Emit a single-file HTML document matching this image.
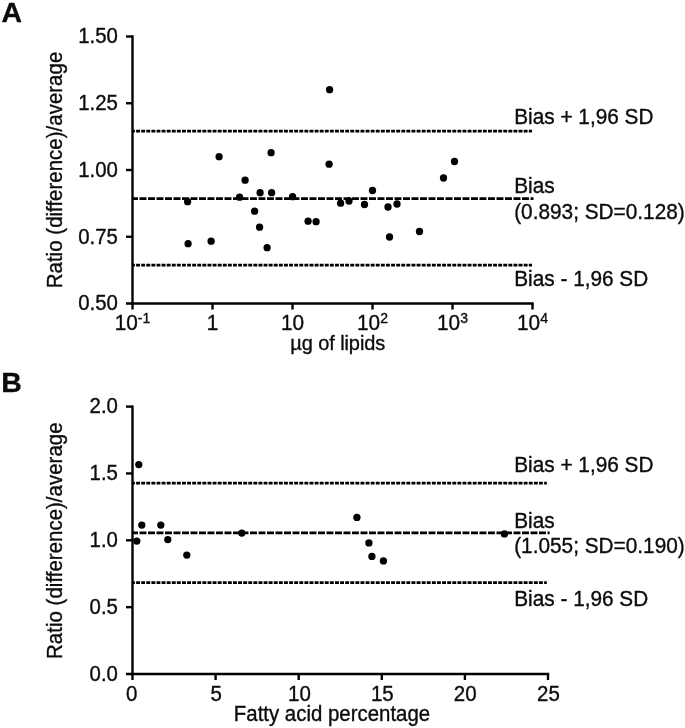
<!DOCTYPE html>
<html lang="en"><head><meta charset="utf-8"><title>Bland-Altman plots</title>
<style>html,body{margin:0;padding:0;background:#fff}body{width:685px;height:728px;overflow:hidden}svg{display:block}</style>
</head><body>
<svg width="685" height="728" viewBox="0 0 685 728">
<rect width="685" height="728" fill="#fff"/>
<g font-family="Liberation Sans, Arial, Helvetica, sans-serif" font-size="20.8" fill="#0c0c0c" stroke="#0c0c0c" stroke-width="0.35" stroke-linejoin="round">
<text transform="translate(1.4 21.9) scale(1 1.0)" font-size="28.4" font-weight="bold">A</text>
<text transform="translate(1.2 391.8) scale(1 1.0)" font-size="28.4" font-weight="bold">B</text>
<g stroke="#000" stroke-width="2.4" fill="none" stroke-linecap="butt">
<path d="M132.5 35.3 V304.7"/>
<path d="M126.0 303.5 H533.7"/>
<path d="M126.0 236.75 H132.5"/>
<path d="M126.0 170.0 H132.5"/>
<path d="M126.0 103.25 H132.5"/>
<path d="M126.0 36.5 H132.5"/>
<path d="M132.5 303.5 V309.5"/>
<path d="M212.5 303.5 V309.5"/>
<path d="M292.5 303.5 V309.5"/>
<path d="M372.5 303.5 V309.5"/>
<path d="M452.5 303.5 V309.5"/>
<path d="M532.5 303.5 V309.5"/>
</g>
<text transform="translate(117.9 310.3) scale(1 1.045)" text-anchor="end" font-size="20.4">0.50</text>
<text transform="translate(117.9 243.6) scale(1 1.045)" text-anchor="end" font-size="20.4">0.75</text>
<text transform="translate(117.9 176.8) scale(1 1.045)" text-anchor="end" font-size="20.4">1.00</text>
<text transform="translate(117.9 110.0) scale(1 1.045)" text-anchor="end" font-size="20.4">1.25</text>
<text transform="translate(117.9 43.3) scale(1 1.045)" text-anchor="end" font-size="20.4">1.50</text>
<text transform="translate(132.5 330.2) scale(1 1.045)" text-anchor="middle">10<tspan dy="-6.8" font-size="14">-1</tspan></text>
<text transform="translate(212.5 330.2) scale(1 1.045)" text-anchor="middle">1</text>
<text transform="translate(292.5 330.2) scale(1 1.045)" text-anchor="middle">10</text>
<text transform="translate(372.5 330.2) scale(1 1.045)" text-anchor="middle">10<tspan dy="-6.8" font-size="14">2</tspan></text>
<text transform="translate(452.5 330.2) scale(1 1.045)" text-anchor="middle">10<tspan dy="-6.8" font-size="14">3</tspan></text>
<text transform="translate(532.5 330.2) scale(1 1.045)" text-anchor="middle">10<tspan dy="-6.8" font-size="14">4</tspan></text>
<text transform="translate(337.8 349.7) scale(1 1.045)" text-anchor="middle" font-size="20" textLength="94.9" lengthAdjust="spacing">µg of lipids</text>
<text transform="translate(61.5 170.0) rotate(-90) scale(1 1.045)" text-anchor="middle" font-size="20.4" textLength="236.5" lengthAdjust="spacing">Ratio (difference)/average</text>
<g stroke="#000" stroke-width="2.7" fill="none">
<path stroke-dashoffset="1.5" d="M132.5 131.2 H532" stroke-dasharray="3.9 1.2"/>
<path stroke-dashoffset="1.5" d="M132.5 198.6 H533.5" stroke-dasharray="6.95 1.55"/>
<path stroke-dashoffset="1.5" d="M132.5 265.2 H532" stroke-dasharray="3.9 1.2"/>
</g>
<circle cx="329.6" cy="89.7" r="3.65" fill="#000" stroke="none"/>
<circle cx="219.1" cy="156.7" r="3.65" fill="#000" stroke="none"/>
<circle cx="271.1" cy="152.7" r="3.65" fill="#000" stroke="none"/>
<circle cx="329.1" cy="164.2" r="3.65" fill="#000" stroke="none"/>
<circle cx="245.1" cy="180.2" r="3.65" fill="#000" stroke="none"/>
<circle cx="187.6" cy="201.7" r="3.65" fill="#000" stroke="none"/>
<circle cx="239.6" cy="197.2" r="3.65" fill="#000" stroke="none"/>
<circle cx="260.1" cy="192.7" r="3.65" fill="#000" stroke="none"/>
<circle cx="271.6" cy="192.7" r="3.65" fill="#000" stroke="none"/>
<circle cx="292.6" cy="196.7" r="3.65" fill="#000" stroke="none"/>
<circle cx="254.6" cy="211.2" r="3.65" fill="#000" stroke="none"/>
<circle cx="340.6" cy="203.2" r="3.65" fill="#000" stroke="none"/>
<circle cx="259.6" cy="227.2" r="3.65" fill="#000" stroke="none"/>
<circle cx="308.1" cy="221.2" r="3.65" fill="#000" stroke="none"/>
<circle cx="316.1" cy="221.7" r="3.65" fill="#000" stroke="none"/>
<circle cx="188.1" cy="243.7" r="3.65" fill="#000" stroke="none"/>
<circle cx="211.1" cy="241.2" r="3.65" fill="#000" stroke="none"/>
<circle cx="267.1" cy="247.7" r="3.65" fill="#000" stroke="none"/>
<circle cx="454.5" cy="161.5" r="3.65" fill="#000" stroke="none"/>
<circle cx="443.5" cy="178.0" r="3.65" fill="#000" stroke="none"/>
<circle cx="372.5" cy="190.5" r="3.65" fill="#000" stroke="none"/>
<circle cx="349.0" cy="201.0" r="3.65" fill="#000" stroke="none"/>
<circle cx="364.5" cy="204.5" r="3.65" fill="#000" stroke="none"/>
<circle cx="388.0" cy="207.0" r="3.65" fill="#000" stroke="none"/>
<circle cx="397.0" cy="204.0" r="3.65" fill="#000" stroke="none"/>
<circle cx="389.5" cy="237.0" r="3.65" fill="#000" stroke="none"/>
<circle cx="419.5" cy="231.5" r="3.65" fill="#000" stroke="none"/>
<text transform="translate(514.2 123.8) scale(1 1.045)">Bias + 1,96 SD</text>
<text transform="translate(514.2 193.2) scale(1 1.045)">Bias</text>
<text transform="translate(514.2 218.8) scale(1 1.045)">(0.893; SD=0.128)</text>
<text transform="translate(514.2 285.7) scale(1 1.045)">Bias - 1,96 SD</text>
<g stroke="#000" stroke-width="2.4" fill="none" stroke-linecap="butt">
<path d="M132.5 405.40000000000003 V675.2"/>
<path d="M126.0 674.0 H549.2"/>
<path d="M126.0 607.15 H132.5"/>
<path d="M126.0 540.3 H132.5"/>
<path d="M126.0 473.45000000000005 H132.5"/>
<path d="M126.0 406.6 H132.5"/>
<path d="M132.5 674.0 V680.0"/>
<path d="M215.6 674.0 V680.0"/>
<path d="M298.7 674.0 V680.0"/>
<path d="M381.8 674.0 V680.0"/>
<path d="M464.9 674.0 V680.0"/>
<path d="M548.0 674.0 V680.0"/>
</g>
<text transform="translate(117.9 680.8) scale(1 1.045)" text-anchor="end" font-size="20.4">0.0</text>
<text transform="translate(117.9 613.9) scale(1 1.045)" text-anchor="end" font-size="20.4">0.5</text>
<text transform="translate(117.9 547.1) scale(1 1.045)" text-anchor="end" font-size="20.4">1.0</text>
<text transform="translate(117.9 480.3) scale(1 1.045)" text-anchor="end" font-size="20.4">1.5</text>
<text transform="translate(117.9 413.4) scale(1 1.045)" text-anchor="end" font-size="20.4">2.0</text>
<text transform="translate(131.7 701.2) scale(1 1.045)" text-anchor="middle" font-size="20.5">0</text>
<text transform="translate(216.1 701.2) scale(1 1.045)" text-anchor="middle" font-size="20.5">5</text>
<text transform="translate(299.5 701.2) scale(1 1.045)" text-anchor="middle" font-size="20.5">10</text>
<text transform="translate(382.3 701.2) scale(1 1.045)" text-anchor="middle" font-size="20.5">15</text>
<text transform="translate(465.2 701.2) scale(1 1.045)" text-anchor="middle" font-size="20.5">20</text>
<text transform="translate(548.5 701.2) scale(1 1.045)" text-anchor="middle" font-size="20.5">25</text>
<text transform="translate(332.0 721.2) scale(1 1.045)" text-anchor="middle" font-size="20.4" textLength="196.4" lengthAdjust="spacing">Fatty acid percentage</text>
<text transform="translate(61.5 540.7) rotate(-90) scale(1 1.045)" text-anchor="middle" font-size="20.4" textLength="236.5" lengthAdjust="spacing">Ratio (difference)/average</text>
<g stroke="#000" stroke-width="2.7" fill="none">
<path stroke-dashoffset="1.5" d="M132.5 483.2 H546.8" stroke-dasharray="3.9 1.2"/>
<path stroke-dashoffset="1.5" d="M132.5 532.9 H549.6" stroke-dasharray="6.95 1.55"/>
<path stroke-dashoffset="1.5" d="M132.5 582.7 H546.8" stroke-dasharray="3.9 1.2"/>
</g>
<circle cx="138.8" cy="464.6" r="3.65" fill="#000" stroke="none"/>
<circle cx="141.8" cy="525.1" r="3.65" fill="#000" stroke="none"/>
<circle cx="136.8" cy="541.1" r="3.65" fill="#000" stroke="none"/>
<circle cx="160.8" cy="525.1" r="3.65" fill="#000" stroke="none"/>
<circle cx="167.8" cy="539.6" r="3.65" fill="#000" stroke="none"/>
<circle cx="186.8" cy="555.1" r="3.65" fill="#000" stroke="none"/>
<circle cx="241.8" cy="533.1" r="3.65" fill="#000" stroke="none"/>
<circle cx="356.9" cy="517.4" r="3.65" fill="#000" stroke="none"/>
<circle cx="368.9" cy="542.9" r="3.65" fill="#000" stroke="none"/>
<circle cx="371.9" cy="556.4" r="3.65" fill="#000" stroke="none"/>
<circle cx="383.4" cy="560.9" r="3.65" fill="#000" stroke="none"/>
<circle cx="504.4" cy="533.9" r="3.65" fill="#000" stroke="none"/>
<text transform="translate(514.2 472.0) scale(1 1.045)">Bias + 1,96 SD</text>
<text transform="translate(514.2 527.5) scale(1 1.045)">Bias</text>
<text transform="translate(514.2 553) scale(1 1.045)">(1.055; SD=0.190)</text>
<text transform="translate(514.2 605.6) scale(1 1.045)">Bias - 1,96 SD</text>
</g></svg>
</body></html>
